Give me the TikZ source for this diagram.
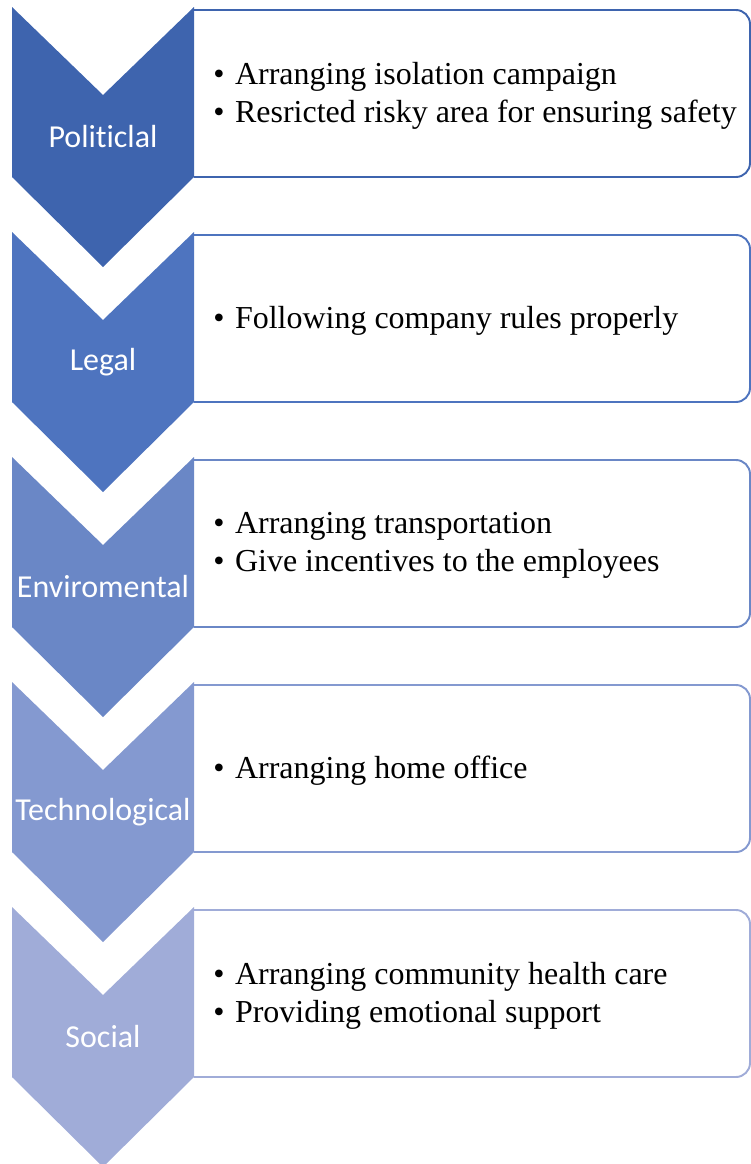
\documentclass[tikz,border=0pt]{standalone}
\usepackage{fontspec}
\usepackage{xcolor}
\setmainfont{Liberation Serif}
\newfontfamily\labfont[Ligatures=CommonOff]{Carlito}
\definecolor{cPol}{HTML}{3E64AE}
\definecolor{cLeg}{HTML}{4E74BF}
\definecolor{cEnv}{HTML}{6A87C6}
\definecolor{cTec}{HTML}{8499D0}
\definecolor{cSoc}{HTML}{A0ACD8}
\tikzset{
	box/.style={line width=1.1pt, rounded corners=8pt},
	lab/.style={text=white, font=\labfont\fontsize{18.2}{22}\selectfont, inner sep=0pt},
	items/.style={anchor=west, align=left, inner sep=0pt, font=\fontsize{18.2}{21.5}\selectfont}
}

\begin{document}
\begin{tikzpicture}[x=0.02cm, y=-0.02cm]
		\useasboundingbox (0,0) rectangle (751,1164);
		%chevrons with their boxes
		\foreach \i/\t/\c/\lab in {1/7/cPol/Politiclal,2/232/cLeg/Legal,3/457/cEnv/Enviromental,4/682/cTec/Technological,5/907/cSoc/Social}
		{
			\draw [box, draw=\c] (194,\t+3) -- (750,\t+3) -- (750,\t+170) -- (194,\t+170);
			\fill [\c] (12,\t) -- (103,\t+88) -- (194,\t) -- (194,\t+170) -- (103,\t+260) -- (12,\t+170) -- cycle;
			\node [lab] (lab\i) at (103,\t+130) {\lab};
		}
		
		%box texts
		\node [items] (txt1) at (213,95.5) {\textbullet\hspace{6pt}Arranging isolation campaign\\\textbullet\hspace{6pt}Resricted risky area for ensuring safety};
		\node [items] (txt2) at (213,320.5) {\textbullet\hspace{6pt}Following company rules properly};
		\node [items] (txt3) at (213,545.5) {\textbullet\hspace{6pt}Arranging transportation\\\textbullet\hspace{6pt}Give incentives to the employees};
		\node [items] (txt4) at (213,770.5) {\textbullet\hspace{6pt}Arranging home office};
		\node [items] (txt5) at (213,995.5) {\textbullet\hspace{6pt}Arranging community health care\\\textbullet\hspace{6pt}Providing emotional support};
		
		\end{tikzpicture}
\end{document}
